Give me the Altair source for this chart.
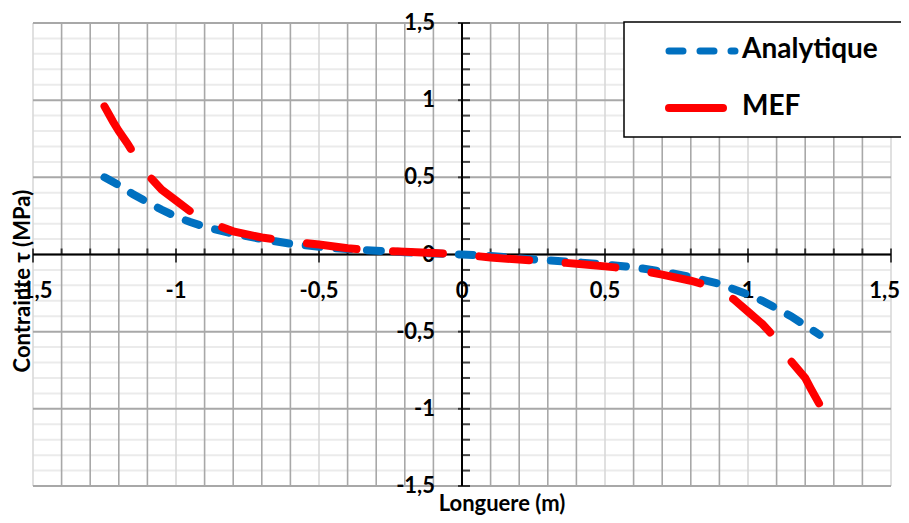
import altair as alt
import pandas as pd

# ---- data ----
ana_x = [-1.25, -1.2, -1.15, -1.1, -1.05, -1.0, -0.95, -0.9, -0.8, -0.7, -0.6, -0.5, -0.4, -0.3, -0.2, -0.1,
         0.0, 0.1, 0.2, 0.3, 0.4, 0.5, 0.6, 0.7, 0.8, 0.9, 0.95, 1.0, 1.05, 1.1, 1.15, 1.2, 1.25]
ana_y = [0.50, 0.45, 0.39, 0.34, 0.29, 0.245, 0.21, 0.18, 0.135, 0.10, 0.07, 0.05, 0.035, 0.025, 0.015, 0.007,
         0.0, -0.01, -0.025, -0.038, -0.05, -0.065, -0.082, -0.11, -0.145, -0.19, -0.225, -0.26, -0.30, -0.35,
         -0.40, -0.46, -0.52]
mef_x = [-1.25, -1.22, -1.2, -1.17, -1.15, -1.12, -1.1, -1.05, -1.0, -0.95, -0.9, -0.85, -0.8, -0.7, -0.6,
         -0.5, -0.4, -0.3, -0.2, -0.1, 0.0, 0.1, 0.2, 0.3, 0.4, 0.5, 0.6, 0.7, 0.8, 0.85, 0.9, 0.95, 1.0,
         1.05, 1.1, 1.12, 1.15, 1.2, 1.22, 1.25]
mef_y = [0.96, 0.86, 0.80, 0.72, 0.66, 0.58, 0.52, 0.42, 0.35, 0.28, 0.225, 0.185, 0.15, 0.11, 0.085,
         0.065, 0.04, 0.025, 0.018, 0.01, 0.0, -0.02, -0.033, -0.045, -0.06, -0.077, -0.095, -0.13, -0.17,
         -0.195, -0.24, -0.29, -0.37, -0.45, -0.55, -0.60, -0.69, -0.80, -0.87, -0.97]

tick_vals = [-1.5, -1.0, -0.5, 0.0, 0.5, 1.0, 1.5]
x_tick_labels = ["-1,5", "-1", "-0,5", "0", "0,5", "1", "1,5"]
y_tick_labels = ["-1,5", "-1", "-0,5", "0", "0,5", "1", "1,5"]
series_names = ["Analytique", "MEF"]
x_title = "Longuere (m)"
y_title = "Contrainte τ (MPa)"

# ---- grid positions (every 0.1 across the -1,5..1,5 range) ----
grid_all = [round(-1.5 + 0.1 * i, 1) for i in range(31)]
grid_major = [v for v in grid_all if abs(v * 2 - round(v * 2)) < 1e-9]
grid_minor = [v for v in grid_all if v not in grid_major]

W, H = 858, 463
FONT = "Lato"
DOM = [-1.5, 1.5]
BLUE_DASH = [14, 16.7]
RED_DASH = [50, 36.5]

xs = alt.Scale(domain=DOM, nice=False, zero=False)
ys = alt.Scale(domain=DOM, nice=False, zero=False)

one = pd.DataFrame({"a": [0]})
ana = pd.DataFrame({"x": ana_x, "y": ana_y})
mef = pd.DataFrame({"x": mef_x, "y": mef_y})
gmin = pd.DataFrame({"v": grid_minor})
gmaj = pd.DataFrame({"v": grid_major})
gmaj_nz = pd.DataFrame({"v": [v for v in grid_major if v != 0]})
xlab_df = pd.DataFrame({"v": tick_vals, "label": x_tick_labels})
xlab_main = xlab_df.iloc[:-1]
xlab_last = xlab_df.iloc[-1:]
ylab = pd.DataFrame({"v": tick_vals, "label": y_tick_labels})

def X(f="v:Q"):
    return alt.X(f, scale=xs, axis=None)

def Y(f="v:Q"):
    return alt.Y(f, scale=ys, axis=None)

Y0 = alt.Y(datum=0, scale=ys, axis=None)
X0 = alt.X(datum=0, scale=xs, axis=None)

# grid
h_minor = alt.Chart(gmin).mark_rule(color="#ebebeb", strokeWidth=2).encode(y=Y())
v_minor = alt.Chart(gmin).mark_rule(color="#a8a8a8", strokeWidth=1.6).encode(x=X())
v_major = alt.Chart(gmaj).mark_rule(color="#d9d9d9", strokeWidth=1.6).encode(x=X())
h_major = alt.Chart(gmaj).mark_rule(color="#a8a8a8", strokeWidth=2).encode(y=Y())

# axes at zero
x_axis = alt.Chart(one).mark_rule(color="black", strokeWidth=2).encode(y=Y0)
y_axis = alt.Chart(one).mark_rule(color="black", strokeWidth=2).encode(x=X0)

# tick marks
x_ticks_min = alt.Chart(gmin).mark_tick(orient="vertical", size=6, thickness=2, yOffset=-3,
                                        color="black").encode(x=X(), y=Y0)
x_ticks_maj = alt.Chart(gmaj_nz).mark_tick(orient="vertical", size=14, thickness=2, yOffset=1,
                                           color="black").encode(x=X(), y=Y0)
y_ticks_min = alt.Chart(gmin).mark_tick(orient="horizontal", size=8, thickness=2, xOffset=4,
                                        color="black").encode(y=Y(), x=X0)
y_ticks_maj = alt.Chart(gmaj_nz).mark_tick(orient="horizontal", size=12, thickness=2, xOffset=2,
                                           color="black").encode(y=Y(), x=X0)

# tick labels
lab_style = dict(font=FONT, fontSize=22, fontWeight="bold", color="black", baseline="middle")
x_labels = alt.Chart(xlab_main).mark_text(dy=36, align="center", **lab_style).encode(
    x=X(), y=Y0, text="label:N")
x_label_last = alt.Chart(xlab_last).mark_text(dy=36, dx=9, align="right", **lab_style).encode(
    x=X(), y=Y0, text="label:N")
y_labels = alt.Chart(ylab).mark_text(dx=-27, align="right", **lab_style).encode(
    y=Y(), x=X0, text="label:N")

# series
ana_line = alt.Chart(ana).mark_line(color="#0070C0", strokeWidth=8, strokeCap="round",
                                    strokeDash=BLUE_DASH).encode(x=X("x:Q"), y=Y("y:Q"))
mef_line = alt.Chart(mef).mark_line(color="#FF0000", strokeWidth=8, strokeCap="round",
                                    strokeDash=RED_DASH).encode(x=X("x:Q"), y=Y("y:Q"))

# titles
xt = alt.Chart(one).mark_text(font=FONT, fontSize=22, fontWeight="bold", color="black",
                              align="center", baseline="alphabetic").encode(
    x=alt.value(469), y=alt.value(488), text=alt.value(x_title))
yt = alt.Chart(one).mark_text(font=FONT, fontSize=22, fontWeight="bold", color="black", angle=270,
                              align="center", baseline="middle").encode(
    x=alt.value(-10), y=alt.value(258), text=alt.value(y_title))

# legend
leg_box = alt.Chart(one).mark_rect(fill="white", stroke="black", strokeWidth=1.5).encode(
    x=alt.value(591), x2=alt.value(900), y=alt.value(-1), y2=alt.value(114))
leg_ana = alt.Chart(one).mark_rule(color="#0070C0", strokeWidth=7, strokeCap="round",
                                   strokeDash=[14, 17]).encode(
    x=alt.value(636), x2=alt.value(702), y=alt.value(28))
leg_mef = alt.Chart(one).mark_rule(color="#FF0000", strokeWidth=8, strokeCap="round").encode(
    x=alt.value(636), x2=alt.value(690), y=alt.value(85))
leg_style = dict(font=FONT, fontSize=28, fontWeight="bold", color="black", align="left", baseline="middle")
leg_t1 = alt.Chart(one).mark_text(**leg_style).encode(
    x=alt.value(709), y=alt.value(27), text=alt.value(series_names[0]))
leg_t2 = alt.Chart(one).mark_text(**leg_style).encode(
    x=alt.value(709), y=alt.value(84), text=alt.value(series_names[1]))

chart = alt.layer(
    h_minor, v_minor, v_major, h_major,
    x_axis, y_axis, x_ticks_min, x_ticks_maj, y_ticks_min, y_ticks_maj,
    x_labels, x_label_last, y_labels,
    ana_line, mef_line,
    xt, yt,
    leg_box, leg_ana, leg_mef, leg_t1, leg_t2,
).properties(
    width=W, height=H, autosize="none",
    padding={"left": 25, "top": 15, "right": 10, "bottom": 30},
).configure_view(stroke=None)

chart.save("out.html", embed_options={"renderer": "svg", "actions": False})
